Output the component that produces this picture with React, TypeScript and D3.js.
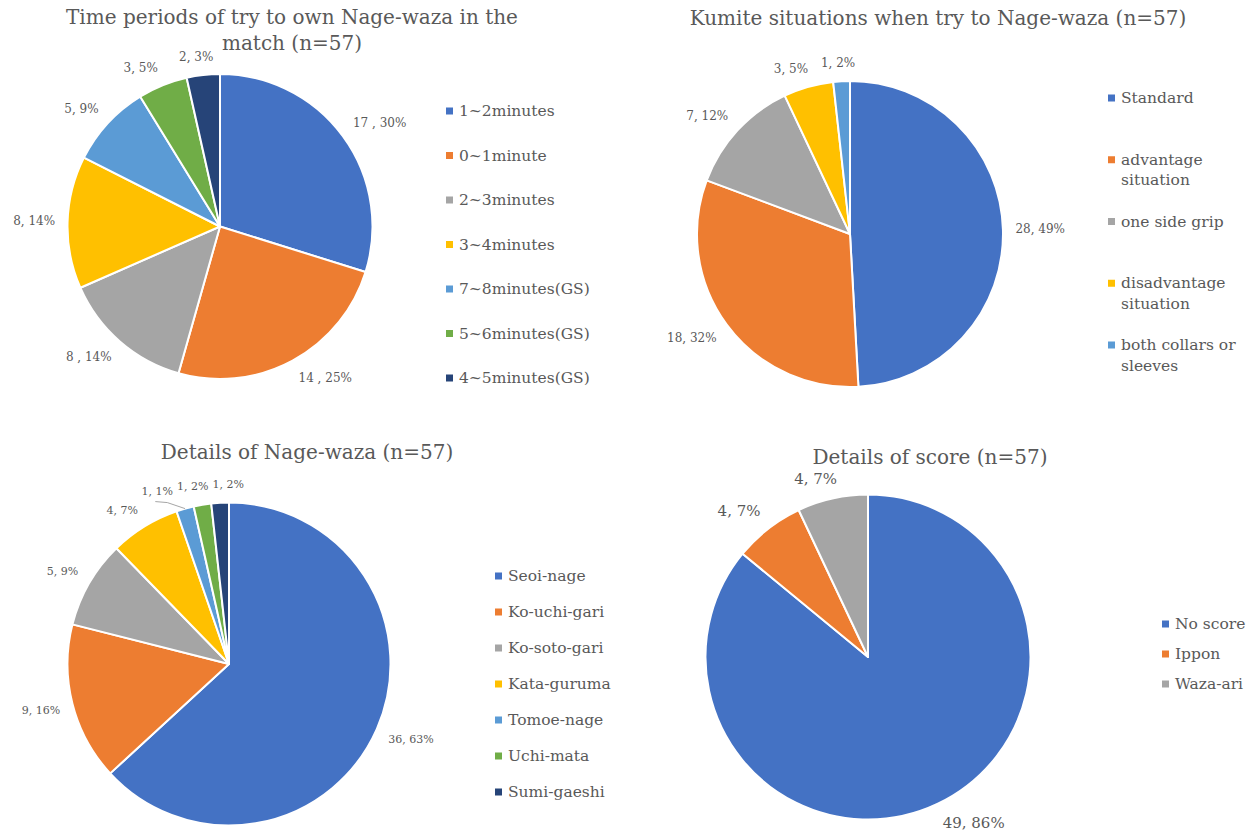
import { useRef, useEffect } from 'react';
import * as d3 from 'd3';

const W = 1250, H = 836;
const textColor = '#595959';
const fontFamily = '"DejaVu Serif", serif';
const palette = ['#4472C4', '#ED7D31', '#A5A5A5', '#FFC000', '#5B9BD5', '#70AD47', '#264478'];

// chart 1 - time periods
const timeCategories = ['1~2minutes', '0~1minute', '2~3minutes', '3~4minutes', '7~8minutes(GS)', '5~6minutes(GS)', '4~5minutes(GS)'];
const timeValues = [17, 14, 8, 8, 5, 3, 2];
const timeLabels = ['17 , 30%', '14 , 25%', '8 , 14%', '8, 14%', '5, 9%', '3, 5%', '2, 3%'];

// chart 2 - kumite situations
const kumiteCategories = ['Standard', 'advantage situation', 'one side grip', 'disadvantage situation', 'both collars or sleeves'];
const kumiteValues = [28, 18, 7, 3, 1];
const kumiteLabels = ['28, 49%', '18, 32%', '7, 12%', '3, 5%', '1, 2%'];

// chart 3 - nage-waza details
const wazaCategories = ['Seoi-nage', 'Ko-uchi-gari', 'Ko-soto-gari', 'Kata-guruma', 'Tomoe-nage', 'Uchi-mata', 'Sumi-gaeshi'];
const wazaValues = [36, 9, 5, 4, 1, 1, 1];
const wazaLabels = ['36, 63%', '9, 16%', '5, 9%', '4, 7%', '1, 1%', '1, 2%', '1, 2%'];

// chart 4 - score details
const scoreCategories = ['No score', 'Ippon', 'Waza-ari'];
const scoreValues = [49, 4, 4];
const scoreLabels = ['49, 86%', '4, 7%', '4, 7%'];

// labels that Excel pulled away and tied back with a leader line
const leaderLabels = ['Tomoe-nage'];

type Spec = {
  title: string[]; titleX: number; titleY: number;
  cats: string[]; values: number[]; labels: string[];
  cx: number; cy: number; r: number; labelSize: number;
  legX: number; legY: number; legStep: number;
};

const specs: Spec[] = [
  { title: ['Time periods of try to own Nage-waza in the', 'match (n=57)'], titleX: 292, titleY: 17,
    cats: timeCategories, values: timeValues, labels: timeLabels,
    cx: 220, cy: 226.5, r: 152.5, labelSize: 12, legX: 459, legY: 111, legStep: 44.5 },
  { title: ['Kumite situations when try to Nage-waza (n=57)'], titleX: 938, titleY: 18,
    cats: kumiteCategories, values: kumiteValues, labels: kumiteLabels,
    cx: 850, cy: 234, r: 153, labelSize: 12, legX: 1121, legY: 98, legStep: 61.75 },
  { title: ['Details of Nage-waza (n=57)'], titleX: 307, titleY: 452,
    cats: wazaCategories, values: wazaValues, labels: wazaLabels,
    cx: 229, cy: 664, r: 161.5, labelSize: 11, legX: 508, legY: 576, legStep: 36 },
  { title: ['Details of score (n=57)'], titleX: 930, titleY: 457,
    cats: scoreCategories, values: scoreValues, labels: scoreLabels,
    cx: 868, cy: 657, r: 162.5, labelSize: 15, legX: 1175, legY: 624, legStep: 30 },
];

function wrap(s: string, max: number) {
  const out: string[] = [];
  let cur = '';
  s.split(' ').forEach(w => {
    if (cur && (cur + ' ' + w).length > max) { out.push(cur); cur = w; }
    else cur = cur ? cur + ' ' + w : w;
  });
  if (cur) out.push(cur);
  return out;
}

export default function App() {
  const svgRef = useRef<SVGSVGElement>(null);

  useEffect(() => {
    if (!svgRef.current) return;
    const svg = d3.select(svgRef.current);
    svg.selectAll('*').remove();

    specs.forEach(s => {
      const g = svg.append('g');
      const pie = d3.pie<number>().sort(null).value(d => d);
      const arcs = pie(s.values);
      const arc = d3.arc<d3.PieArcDatum<number>>().innerRadius(0).outerRadius(s.r);

      // title
      s.title.forEach((t, i) => {
        g.append('text').attr('x', s.titleX).attr('y', s.titleY + i * 26)
          .attr('text-anchor', 'middle').attr('dominant-baseline', 'central')
          .attr('font-family', fontFamily).attr('font-size', 20).attr('fill', textColor).text(t);
      });

      // slices
      g.append('g').attr('transform', `translate(${s.cx},${s.cy})`)
        .selectAll('path').data(arcs).enter().append('path')
        .attr('d', arc)
        .attr('fill', (_, i) => palette[i % palette.length])
        .attr('stroke', '#fff').attr('stroke-width', 2).attr('stroke-linejoin', 'round');

      // data labels, outside end: box pushed off the rim, sideways near the horizontal
      const rho = s.r + 12.5;
      const items = arcs.map((a, i) => {
        const t = g.append('text').attr('text-anchor', 'middle').attr('dominant-baseline', 'central')
          .attr('font-family', fontFamily).attr('font-size', s.labelSize).attr('fill', textColor)
          .text(s.labels[i]);
        const w = (t.node() as SVGTextElement).getComputedTextLength();
        const h = s.labelSize;
        const th = (a.startAngle + a.endAngle) / 2;
        const sn = Math.sin(th), cs = Math.cos(th);
        const x = s.cx + rho * sn + Math.sign(sn) * Math.min(1, 3 * Math.abs(sn)) * w / 2;
        let y = s.cy - rho * cs - Math.sign(cs) * Math.min(1, 3 * Math.abs(cs)) * h / 2;
        y = Math.min(y, H - h / 2 - 3);
        return { t, w, h, th, x, y, cat: s.cats[i] };
      });
      // push overlapping labels apart sideways
      for (let it = 0; it < 40; it++) {
        const sorted = [...items].sort((a, b) => a.x - b.x);
        for (let i = 0; i < sorted.length; i++) {
          for (let j = i + 1; j < sorted.length; j++) {
            const a = sorted[i], b = sorted[j];
            if (Math.abs(a.y - b.y) >= (a.h + b.h) / 2) continue;
            const need = (a.w + b.w) / 2 + 4;
            const d = b.x - a.x;
            if (d < need) { a.x -= (need - d) / 2; b.x += (need - d) / 2; }
          }
        }
      }
      items.forEach(it => {
        it.t.attr('x', it.x).attr('y', it.y);
        if (leaderLabels.includes(it.cat)) {
          const ex = s.cx + s.r * Math.sin(it.th), ey = s.cy - s.r * Math.cos(it.th);
          const sy = it.y + it.h / 2 + 5;
          g.append('path')
            .attr('d', d3.line()([[it.x - 2, sy], [it.x + 10, sy + 1], [ex, ey]]))
            .attr('fill', 'none').attr('stroke', '#a6a6a6').attr('stroke-width', 1);
        }
      });

      // legend
      const lineH = 20.5;
      s.cats.forEach((c, i) => {
        const y = s.legY + i * s.legStep;
        g.append('rect').attr('x', s.legX - 13).attr('y', y - 3.5).attr('width', 7).attr('height', 7)
          .attr('fill', palette[i % palette.length]);
        const lines = s.cats.length === 5 ? wrap(c, 15) : [c];
        lines.forEach((ln, k) => {
          g.append('text').attr('x', s.legX).attr('y', y + k * lineH)
            .attr('dominant-baseline', 'central')
            .attr('font-family', fontFamily).attr('font-size', 15.5).attr('fill', textColor).text(ln);
        });
      });
    });
  }, []);

  return (
    <svg ref={svgRef} width={W} height={H} viewBox={`0 0 ${W} ${H}`}
      style={{ position: 'absolute', left: 0, top: 0, background: '#fff' }} />
  );
}
